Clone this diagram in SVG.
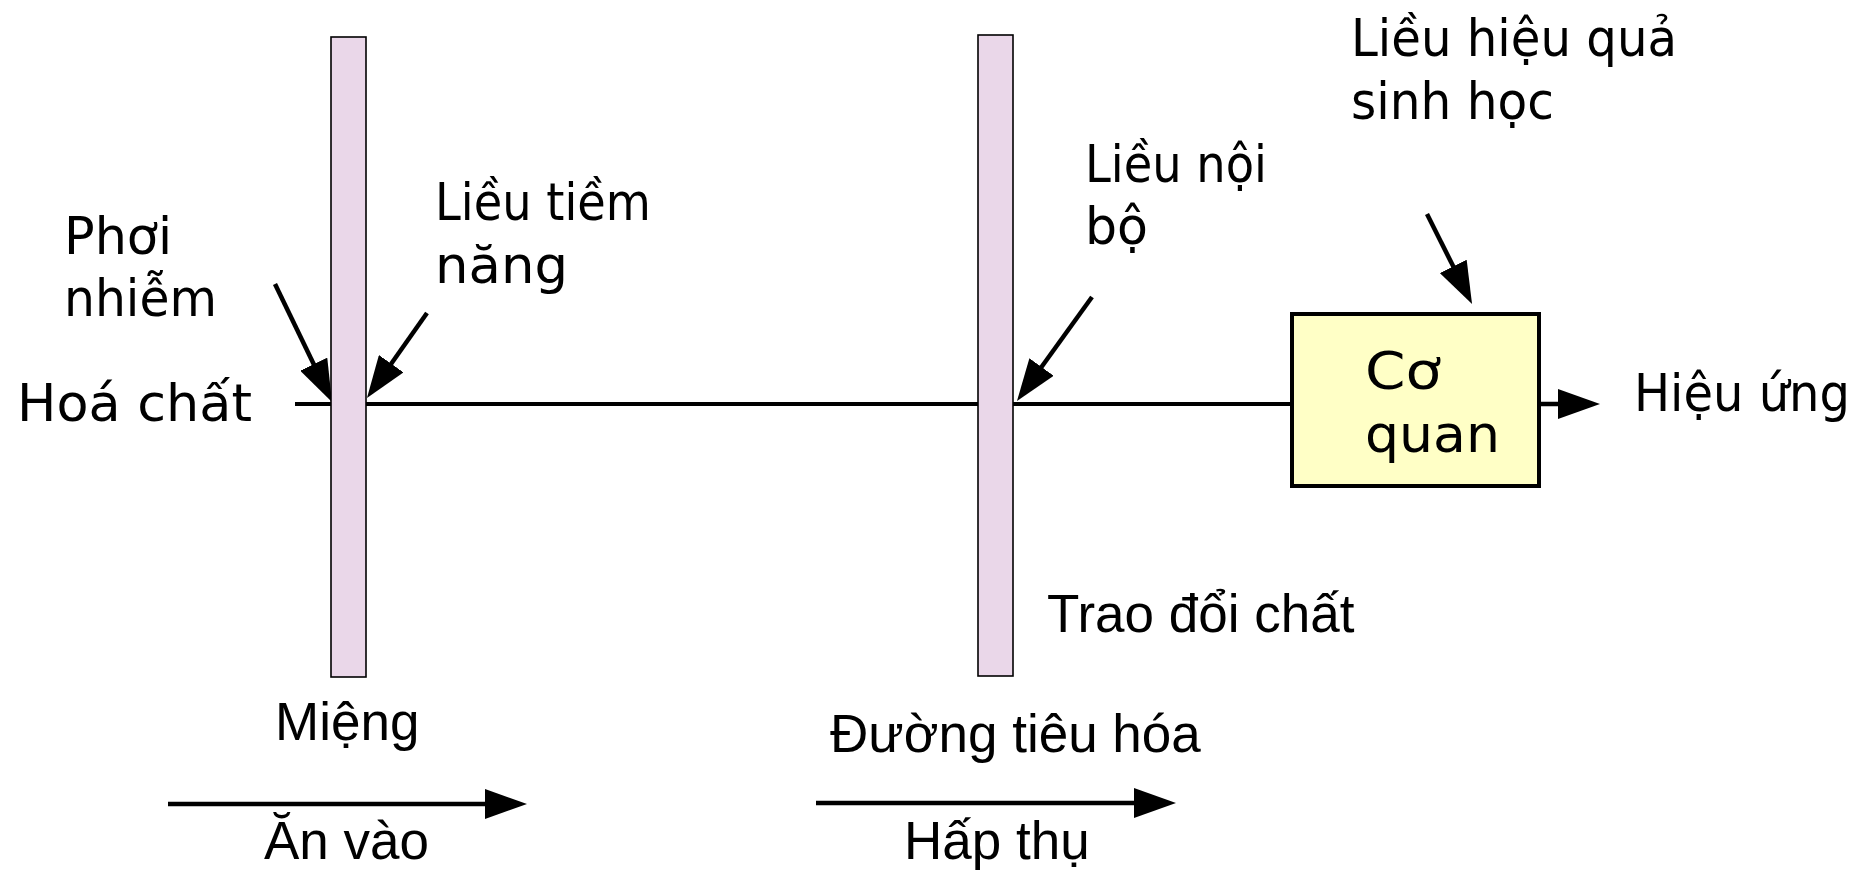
<svg xmlns="http://www.w3.org/2000/svg" width="1865" height="873" viewBox="0 0 1865 873">
  <style>
    .lbl { font-family: "DejaVu Sans", "Liberation Sans", sans-serif; font-size: 51px; fill: #000; }
    .lbl2 { font-family: "Liberation Sans", Arial, sans-serif; font-size: 53px; fill: #000; }
    .bar { fill: #EAD7E9; stroke: #000; stroke-width: 1.6; }
    .box { fill: #FFFFC6; stroke: #000; stroke-width: 4; }
    .wire { fill: none; stroke: #000; stroke-width: 4; }
    .arr { fill: none; stroke: #000; stroke-width: 4.5; marker-end: url(#head); }
  </style>
  <defs>
    <marker id="head" viewBox="0 0 42 30" refX="22" refY="15" markerWidth="42" markerHeight="30" markerUnits="userSpaceOnUse" orient="auto">
      <path d="M0,0 L42,15 L0,30 Z" fill="#000"/>
    </marker>
  </defs>
  <rect width="1865" height="873" fill="#fff"/>

  <!-- main pathway and pointers -->
  <g id="connectors">
    <line class="wire" x1="295" y1="404" x2="1292" y2="404"/>
    <line class="arr" x1="275" y1="284" x2="323.3" y2="384"/>
    <line class="arr" x1="427" y1="313" x2="378.5" y2="381.7"/>
    <line class="arr" x1="1092" y1="297" x2="1028.7" y2="384.8"/>
    <line class="arr" x1="1427" y1="214" x2="1463.1" y2="286.1"/>
    <line class="arr" x1="1539" y1="404" x2="1580" y2="404"/>
    <line class="arr" x1="168" y1="804" x2="507" y2="804"/>
    <line class="arr" x1="816" y1="803" x2="1156" y2="803"/>
  </g>

  <g id="mouth">
    <rect class="bar" x="331" y="37" width="35" height="640"/>
    <text class="lbl2" x="275" y="740">Miệng</text>
  </g>
  <g id="gut">
    <rect class="bar" x="978" y="35" width="35" height="641"/>
    <text class="lbl2" x="830" y="752">Đường tiêu hóa</text>
  </g>
  <g id="organ">
    <rect class="box" x="1292" y="314" width="247" height="172"/>
    <text class="lbl" x="1365" y="389" textLength="76" lengthAdjust="spacingAndGlyphs">Cơ</text>
    <text class="lbl" x="1365" y="452" textLength="135" lengthAdjust="spacingAndGlyphs">quan</text>
  </g>

  <g id="chemical"><text class="lbl" x="17" y="421" textLength="235" lengthAdjust="spacingAndGlyphs">Hoá chất</text></g>
  <g id="exposure">
    <text class="lbl" x="64" y="254" textLength="108" lengthAdjust="spacingAndGlyphs">Phơi</text>
    <text class="lbl" x="64" y="316" textLength="153" lengthAdjust="spacingAndGlyphs">nhiễm</text>
  </g>
  <g id="potential-dose">
    <text class="lbl" x="435" y="220" textLength="216" lengthAdjust="spacingAndGlyphs">Liều tiềm</text>
    <text class="lbl" x="435" y="283" textLength="133" lengthAdjust="spacingAndGlyphs">năng</text>
  </g>
  <g id="internal-dose">
    <text class="lbl" x="1085" y="182" textLength="182" lengthAdjust="spacingAndGlyphs">Liều nội</text>
    <text class="lbl" x="1085" y="244" textLength="63" lengthAdjust="spacingAndGlyphs">bộ</text>
  </g>
  <g id="effective-dose">
    <text class="lbl" x="1351" y="56" textLength="326" lengthAdjust="spacingAndGlyphs">Liều hiệu quả</text>
    <text class="lbl" x="1351" y="119" textLength="203" lengthAdjust="spacingAndGlyphs">sinh học</text>
  </g>
  <g id="effect"><text class="lbl" x="1634" y="411" textLength="216" lengthAdjust="spacingAndGlyphs">Hiệu ứng</text></g>
  <g id="metabolism"><text class="lbl2" x="1047" y="632">Trao đổi chất</text></g>
  <g id="ingestion"><text class="lbl2" x="264" y="859">Ăn vào</text></g>
  <g id="absorption"><text class="lbl2" x="904" y="859">Hấp thụ</text></g>
</svg>
